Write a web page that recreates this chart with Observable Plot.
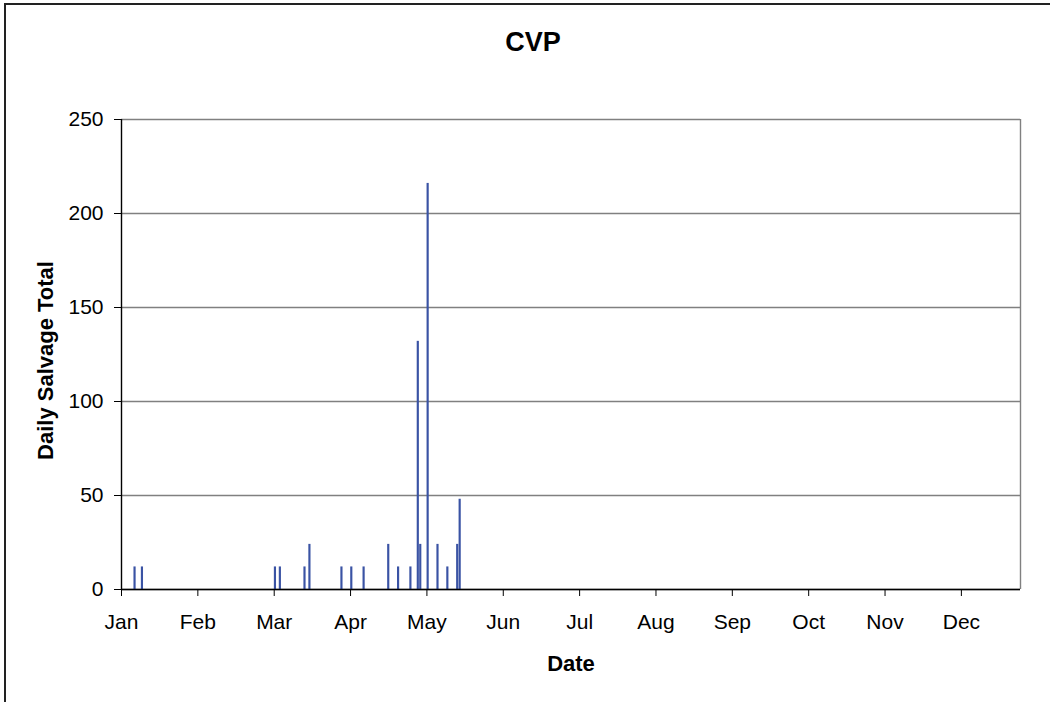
<!DOCTYPE html>
<html>
<head>
<meta charset="utf-8">
<script src="https://cdn.jsdelivr.net/npm/d3@7"></script>
<script src="https://cdn.jsdelivr.net/npm/@observablehq/plot@0.6"></script>
<style>
  html, body { margin: 0; padding: 0; background: #fff; }
  #wrap { position: relative; width: 1050px; height: 702px; overflow: hidden; }
  #border { position: absolute; left: 4px; top: 3px; width: 1100px; height: 800px;
            border-top: 2px solid #222; border-left: 2px solid #222; }
  #chart { position: absolute; left: 0; top: 0; }
</style>
</head>
<body>
<div id="wrap"><div id="border"></div><div id="chart"></div></div>
<script>
// Data (CVP daily salvage)
const dates = ["2007-01-06","2007-01-09","2007-03-04","2007-03-06","2007-03-16","2007-03-18",
               "2007-03-31","2007-04-04","2007-04-09","2007-04-19","2007-04-23","2007-04-28",
               "2007-05-01","2007-05-02","2007-05-05","2007-05-09","2007-05-13","2007-05-17","2007-05-18"];
const salvage = [12, 12, 12, 12, 12, 24,
                 12, 12, 12, 24, 12, 12,
                 132, 24, 216, 24, 12, 24, 48];
const monthLabels = ["Jan","Feb","Mar","Apr","May","Jun","Jul","Aug","Sep","Oct","Nov","Dec"];
const yTicks = [0, 50, 100, 150, 200, 250];
const titleText = "CVP";
const xTitle = "Date";
const yTitle = "Daily Salvage Total";

const DAY = 86400000;
const start = new Date(Date.UTC(2007, 0, 1));
const end = new Date(Date.UTC(2008, 0, 1));
// Excel-style axis: major unit of 31 days starting at Jan 1
const xTicks = monthLabels.map((m, i) => new Date(start.getTime() + i * 31 * DAY));
const tickLabelOf = new Map(xTicks.map((d, i) => [d.getTime(), monthLabels[i]]));

const data = dates.map((d, i) => {
  const t = new Date(d + "T00:00:00Z");
  return {x1: t, x2: new Date(t.getTime() + DAY), value: salvage[i]};
});

const font = "'Liberation Sans', Arial, sans-serif";

const chart = Plot.plot({
  width: 1050,
  height: 702,
  marginTop: 119,
  marginRight: 30,
  marginBottom: 113,
  marginLeft: 121,
  style: {fontFamily: font, fontSize: "21px", color: "#000", background: "transparent", overflow: "visible"},
  x: {type: "utc", domain: [start, end]},
  y: {domain: [0, 250]},
  marks: [
    Plot.gridY(yTicks, {stroke: "#808080", strokeOpacity: 1, strokeWidth: 1.4}),
    Plot.ruleX([end], {stroke: "#808080", strokeWidth: 1.4}),
    Plot.rectY(data, {x1: "x1", x2: "x2", y: "value", fill: "#3a53a4", insetLeft: 0.15, insetRight: 0.15}),
    Plot.ruleY([0], {stroke: "#000", strokeWidth: 1.4}),
    Plot.ruleX([start], {stroke: "#000", strokeWidth: 1.4}),
    Plot.axisY({ticks: yTicks, tickSize: 7, tickPadding: 11, label: null, fontSize: 21, stroke: "#000"}),
    Plot.axisX({ticks: xTicks, tickSize: 7, tickPadding: 18, label: null, fontSize: 21,
                tickFormat: d => tickLabelOf.get(d.getTime()), stroke: "#000"}),
    Plot.text([titleText], {frameAnchor: "top", dx: -38, dy: -77, fontSize: 27, fontWeight: "bold", lineAnchor: "middle"}),
    Plot.text([xTitle], {frameAnchor: "bottom", dy: 74, fontSize: 22, fontWeight: "bold", lineAnchor: "middle"}),
    Plot.text([yTitle], {frameAnchor: "left", dx: -76, dy: 6, rotate: -90, textAnchor: "middle", fontSize: 22, fontWeight: "bold", lineAnchor: "middle"})
  ]
});
document.getElementById("chart").appendChild(chart);
</script>
</body>
</html>
